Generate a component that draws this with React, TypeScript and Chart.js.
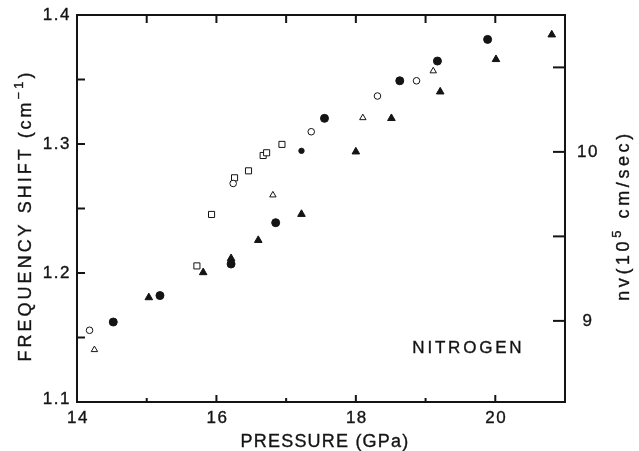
import { useEffect, useRef } from "react";
import { Chart, registerables } from "chart.js";

Chart.register(...registerables);

// ---- data (pressure GPa, frequency shift cm^-1) ----
const openCirclePressure = [14.18, 16.24, 17.36, 18.31, 18.87];
const openCircleShift = [1.1556, 1.2694, 1.3095, 1.3372, 1.349];

const openTrianglePressure = [14.25, 16.81, 18.1, 19.11];
const openTriangleShift = [1.1405, 1.2604, 1.3203, 1.3566];

const filledCirclePressure = [14.52, 15.19, 16.21, 16.85, 17.22, 17.55, 18.63, 19.17, 19.89];
const filledCircleShift = [1.162, 1.1825, 1.207, 1.239, 1.2947, 1.3199, 1.349, 1.3643, 1.3811];
const filledCircleSize = [4, 4, 4, 4, 2.7, 4, 4, 4, 4];

const filledTrianglePressure = [15.03, 15.81, 16.21, 16.6, 17.22, 18.0, 18.51, 19.21, 20.01, 20.81];
const filledTriangleShift = [1.181, 1.2004, 1.2113, 1.2254, 1.2456, 1.294, 1.3199, 1.3405, 1.3656, 1.3847];

const squarePressure = [15.72, 15.93, 16.26, 16.46, 16.67, 16.72, 16.94];
const squareShift = [1.2055, 1.2454, 1.2738, 1.2792, 1.2911, 1.2932, 1.2997];

// ---- axes ----
const xMin = 14;
const xMax = 21;
const xTickValues = [14, 15, 16, 17, 18, 19, 20, 21];
const xLabelValues = [14, 16, 18, 20];
const xTickLabels = ["14", "16", "18", "20"];

const yMin = 1.1;
const yMax = 1.4;
const yTickValues = [1.1, 1.15, 1.2, 1.25, 1.3, 1.35, 1.4];
const yLabelValues = [1.1, 1.2, 1.3, 1.4];
const yTickLabels = ["1.1", "1.2", "1.3", "1.4"];

const y2Min = 8.52;
const y2Max = 10.81;
const y2TickValues = [9, 9.5, 10, 10.5];
const y2LabelValues = [9, 10];
const y2TickLabels = ["9", "10"];

const xTitle = "PRESSURE (GPa)";
const yTitleParts = ["FREQUENCY SHIFT (cm", "\u22121", ")"];
const y2TitleParts = ["nv(10", "5", " cm/sec)"];
const annotationText = "NITROGEN";
const annotationPos = [18.81, 1.1417];

const INK = "#141414";
const FONT = '"Liberation Sans", Arial, sans-serif';

function pts(xs: number[], ys: number[]) {
  return xs.map((x, i) => ({ x, y: ys[i] }));
}

function drawRich(ctx: CanvasRenderingContext2D, parts: string[], supIdx: number, cx: number, cy: number, rot: number, size: number, spacing: number) {
  ctx.save();
  ctx.translate(cx, cy);
  ctx.rotate(rot);
  const widths: number[] = [];
  parts.forEach((p, i) => {
    const s = i === supIdx ? size * 0.72 : size;
    ctx.font = `${s}px ${FONT}`;
    (ctx as any).letterSpacing = `${spacing}px`;
    widths.push(ctx.measureText(p).width);
  });
  const total = widths.reduce((a, b) => a + b, 0);
  let xx = -total / 2;
  ctx.textBaseline = "middle";
  ctx.textAlign = "left";
  ctx.fillStyle = INK;
  ctx.strokeStyle = INK;
  ctx.lineWidth = 0.35;
  parts.forEach((p, i) => {
    const s = i === supIdx ? size * 0.72 : size;
    ctx.font = `${s}px ${FONT}`;
    (ctx as any).letterSpacing = `${spacing}px`;
    const yy = i === supIdx ? -size * 0.38 : 0;
    ctx.fillText(p, xx, yy);
    ctx.strokeText(p, xx, yy);
    xx += widths[i];
  });
  ctx.restore();
}

const framePlugin = {
  id: "frame",
  afterDraw(chart: any) {
    const ctx: CanvasRenderingContext2D = chart.ctx;
    const { left, right, top, bottom } = chart.chartArea;
    const { x, y, y2 } = chart.scales;
    ctx.save();
    ctx.strokeStyle = INK;
    ctx.fillStyle = INK;
    ctx.lineWidth = 2;
    ctx.strokeRect(left, top, right - left, bottom - top);

    // x ticks (inward) bottom & top
    xTickValues.forEach((v) => {
      if (v === xMin || v === xMax) return;
      const px = x.getPixelForValue(v);
      const major = v % 2 === 0;
      ctx.beginPath();
      ctx.moveTo(px, bottom);
      ctx.lineTo(px, bottom - (major ? 7 : 4));
      ctx.moveTo(px, top);
      ctx.lineTo(px, top + 8);
      ctx.stroke();
    });
    // y ticks (left, inward)
    yTickValues.forEach((v) => {
      if (v === yMin || v === yMax) return;
      const py = y.getPixelForValue(v);
      ctx.beginPath();
      ctx.moveTo(left, py);
      ctx.lineTo(left + 8, py);
      ctx.stroke();
    });
    // y2 ticks (right, inward)
    y2TickValues.forEach((v) => {
      const py = y2.getPixelForValue(v);
      ctx.beginPath();
      ctx.moveTo(right, py);
      ctx.lineTo(right - 12, py);
      ctx.stroke();
    });

    // tick labels
    ctx.font = `17px ${FONT}`;
    (ctx as any).letterSpacing = "1.5px";
    ctx.textBaseline = "middle";
    ctx.lineWidth = 0.35;
    const txt = (s: string, px: number, py: number) => {
      ctx.fillText(s, px, py);
      ctx.strokeText(s, px, py);
    };
    ctx.textAlign = "center";
    xLabelValues.forEach((v, i) => {
      txt(xTickLabels[i], x.getPixelForValue(v) + 1, bottom + 16);
    });
    ctx.textAlign = "right";
    yLabelValues.forEach((v, i) => {
      const off = v === yMin ? -3 : 0;
      txt(yTickLabels[i], left - 6, y.getPixelForValue(v) + off);
    });
    ctx.textAlign = "center";
    y2LabelValues.forEach((v, i) => {
      txt(y2TickLabels[i], right + 23, y2.getPixelForValue(v));
    });

    // annotation
    ctx.textAlign = "left";
    (ctx as any).letterSpacing = "2.8px";
    txt(annotationText, x.getPixelForValue(annotationPos[0]), y.getPixelForValue(annotationPos[1]));
    ctx.restore();

    // titles
    drawRich(ctx, [xTitle], -1, (left + right) / 2 + 4, bottom + 40, 0, 18, 1.2);
    drawRich(ctx, yTitleParts, 1, 26, (top + bottom) / 2 + 7, -Math.PI / 2, 18, 3);
    drawRich(ctx, y2TitleParts, 1, 624, (top + bottom) / 2 + 7, -Math.PI / 2, 18, 3.6);
  },
};

export default function App() {
  const ref = useRef<HTMLCanvasElement | null>(null);
  useEffect(() => {
    if (!ref.current) return;
    const common = { borderColor: INK, showLine: false, borderWidth: 1 };
    const chart = new Chart(ref.current, {
      type: "scatter",
      data: {
        datasets: [
          { ...common, label: "open circles", data: pts(openCirclePressure, openCircleShift), pointStyle: "circle", pointRadius: 3.3, backgroundColor: "#fff" },
          { ...common, label: "open triangles", data: pts(openTrianglePressure, openTriangleShift), pointStyle: "triangle", pointRadius: 3.7, backgroundColor: "#fff" },
          { ...common, label: "squares", data: pts(squarePressure, squareShift), pointStyle: "rect", pointRadius: 4.3, backgroundColor: "#fff" },
          { ...common, label: "filled circles", data: pts(filledCirclePressure, filledCircleShift), pointStyle: "circle", pointRadius: filledCircleSize, backgroundColor: INK },
          { ...common, label: "filled triangles", data: pts(filledTrianglePressure, filledTriangleShift), pointStyle: "triangle", pointRadius: 4.4, backgroundColor: INK },
        ],
      },
      options: {
        animation: false,
        responsive: true,
        maintainAspectRatio: false,
        layout: { padding: { left: 77, right: 74, top: 15, bottom: 49 } },
        plugins: { legend: { display: false }, tooltip: { enabled: false } },
        scales: {
          x: { type: "linear", min: xMin, max: xMax, display: false },
          y: { type: "linear", min: yMin, max: yMax, display: false },
          y2: { type: "linear", position: "right", min: y2Min, max: y2Max, display: false },
        },
      },
      plugins: [framePlugin],
    });
    return () => chart.destroy();
  }, []);
  return (
    <div style={{ position: "absolute", left: 0, top: 0, width: 639, height: 451, background: "#fff" }}>
      <canvas ref={ref} />
    </div>
  );
}
